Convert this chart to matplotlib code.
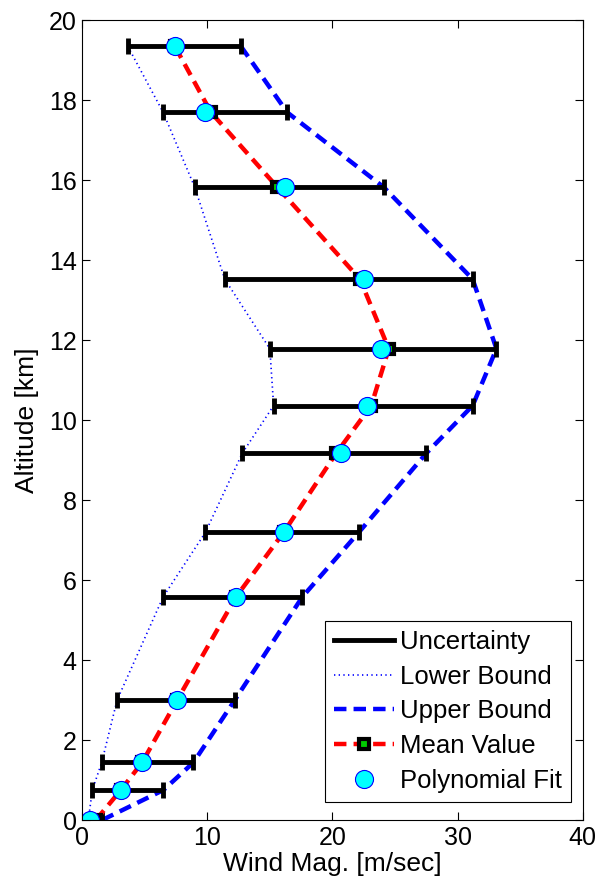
import numpy as np
import matplotlib
matplotlib.use("Agg")
import matplotlib.pyplot as plt
from matplotlib.lines import Line2D

plt.rcParams['font.family'] = ['Liberation Sans', 'DejaVu Sans']

# altitude [km] of each sample
alt = [0.0, 0.75, 1.44, 3.0, 5.58, 7.19, 9.17, 10.36, 11.78, 13.52, 15.82, 17.69, 19.35]
# wind magnitude [m/sec]
lower = [0.5, 0.82, 1.57, 2.8, 6.48, 9.85, 12.8, 15.3, 15.0, 11.4, 9.0, 6.48, 3.64]
upper = [1.6, 6.5, 8.9, 12.2, 17.6, 22.1, 27.5, 31.2, 33.1, 31.2, 24.1, 16.39, 12.67]
mean = [1.1, 3.1, 4.8, 7.6, 12.3, 16.1, 20.3, 23.1, 24.5, 22.2, 15.6, 10.3, 7.4]
fit = [0.6, 3.1, 4.8, 7.6, 12.3, 16.1, 20.7, 22.8, 23.9, 22.5, 16.2, 9.8, 7.41]

alt = np.array(alt)
lower = np.array(lower)
upper = np.array(upper)
mean = np.array(mean)
fit = np.array(fit)

fig = plt.figure(figsize=(5.99, 8.85), dpi=100)
ax = fig.add_axes([0.137, 0.0734, 0.836, 0.904])

dots = (0, (0.8, 2.0))
dashes = (0, (2.8, 1.6))
ax.plot(lower, alt, color='blue', ls=dots, lw=1.2)
ax.plot(upper, alt, color='blue', ls=dashes, lw=3.2)
ax.errorbar(mean, alt, xerr=[mean - lower, upper - mean], fmt='none',
            ecolor='black', elinewidth=3.5, capsize=6, capthick=3.5)
ax.plot(mean, alt, color='red', ls=dashes, lw=3.2,
        marker='s', ms=7, mfc='#00cc00', mec='black', mew=3)
ax.plot(fit, alt, ls='none', marker='o', ms=13, mfc='cyan', mec='blue', mew=0.8)

ax.set_xlim(0, 40)
ax.set_ylim(0, 20)
ax.set_xticks(np.arange(0, 41, 10))
ax.set_yticks(np.arange(0, 21, 2))
ax.tick_params(direction='in', top=True, right=True, labelsize=18, length=6, pad=4)
ax.set_xlabel('Wind Mag. [m/sec]', fontsize=19, labelpad=2)
ax.set_ylabel('Altitude [km]', fontsize=19, labelpad=7)

handles = [
    Line2D([], [], color='black', lw=3.5),
    Line2D([], [], color='blue', ls=dots, lw=1.2),
    Line2D([], [], color='blue', ls=dashes, lw=3.2),
    Line2D([], [], color='red', ls=dashes, lw=3.2,
           marker='s', ms=7, mfc='#00cc00', mec='black', mew=3),
    Line2D([], [], ls='none', marker='o', ms=13, mfc='cyan', mec='blue', mew=0.8),
]
labels = ['Uncertainty', 'Lower Bound', 'Upper Bound', 'Mean Value', 'Polynomial Fit']
leg = ax.legend(handles, labels, loc='lower right', fontsize=18.5, fancybox=False,
                edgecolor='black', framealpha=1, handlelength=2.3,
                handletextpad=0.25, labelspacing=0.42, borderpad=0.35,
                borderaxespad=0, bbox_to_anchor=(0.976, 0.0225))
leg.get_frame().set_linewidth(0.8)

fig.savefig('out.png', dpi=100)
